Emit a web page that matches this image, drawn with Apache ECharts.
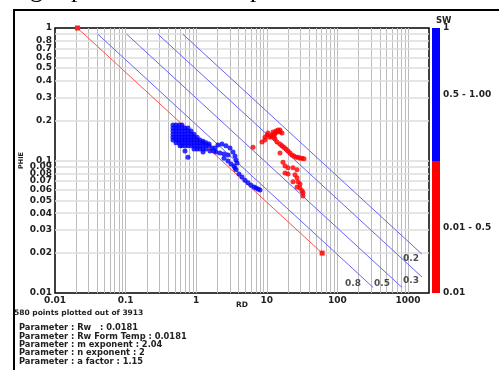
<!DOCTYPE html>
<html><head><meta charset="utf-8">
<script src="https://cdn.jsdelivr.net/npm/echarts@6/dist/echarts.min.js"></script>
<style>html,body{margin:0;padding:0;background:#fff}#c{width:499px;height:370px}</style>
</head><body><div id="c"></div>
<script>
// ---- axis ticks / grid ----
const xTickValues = [0.01, 0.1, 1, 10, 100, 1000];
const xTickLabels = ['0.01', '0.1', '1', '10', '100', '1000'];
const yTickValues = [0.01,0.02,0.03,0.04,0.05,0.06,0.07,0.08,0.09,0.1,0.2,0.3,0.4,0.5,0.6,0.7,0.8,0.9,1];
const yTickLabels = ['0.01','0.02','0.03','0.04','0.05','0.06','0.07','0.08','0.09','0.1','0.2','0.3','0.4','0.5','0.6','0.7','0.8','0.9','1'];
const xGridValues = [0.02,0.03,0.04,0.05,0.06,0.07,0.08,0.09,0.1,0.2,0.3,0.4,0.5,0.6,0.7,0.8,0.9,1,2,3,4,5,6,7,8,9,10,20,30,40,50,60,70,80,90,100,200,300,400,500,600,700,800,900,1000];
const yGridValues = [0.02,0.03,0.04,0.05,0.06,0.07,0.08,0.09,0.1,0.2,0.3,0.4,0.5,0.6,0.7,0.8,0.9];

// ---- Sw lines (RD, PHIE endpoints) ----
const sw1Line  = [[0.0208, 1], [60.8, 0.02]];
const sw08Line = [[0.0403, 0.9], [322, 0.011]];
const sw05Line = [[0.1032, 0.9], [824, 0.011]];
const sw03Line = [[0.2866, 0.9], [1578, 0.0132]];
const sw02Line = [[0.645, 0.9], [1566, 0.0197]];
const swLabelPoints = [[1103, 0.0181], [1103, 0.0123], [166, 0.0117], [428, 0.0117]];
const swLabelTexts = ['0.2', '0.3', '0.8', '0.5'];

// ---- points (RD, PHIE) ----
const bluePoints = [
 [0.469,0.185],[0.469,0.176],[0.469,0.167],[0.469,0.158],[0.469,0.150],[0.469,0.143],
 [0.518,0.185],[0.518,0.176],[0.518,0.167],[0.518,0.158],[0.518,0.150],[0.518,0.143],[0.518,0.136],
 [0.571,0.185],[0.571,0.176],[0.571,0.167],[0.571,0.158],[0.571,0.150],[0.571,0.143],[0.571,0.136],
 [0.629,0.185],[0.629,0.176],[0.629,0.167],[0.629,0.158],[0.629,0.150],[0.629,0.143],[0.629,0.136],
 [0.694,0.176],[0.694,0.167],[0.694,0.158],[0.694,0.150],[0.694,0.143],[0.694,0.136],[0.694,0.129],
 [0.765,0.176],[0.765,0.167],[0.765,0.158],[0.765,0.150],[0.765,0.143],[0.765,0.136],[0.765,0.129],
 [0.844,0.167],[0.844,0.158],[0.844,0.150],[0.844,0.143],[0.844,0.136],[0.844,0.129],
 [0.931,0.158],[0.931,0.150],[0.931,0.143],[0.931,0.136],[0.931,0.129],[0.931,0.122],
 [1.03,0.150],[1.03,0.143],[1.03,0.136],[1.03,0.129],[1.03,0.122],
 [1.13,0.143],[1.13,0.136],[1.13,0.129],[1.13,0.122],
 [1.25,0.140],[1.25,0.136],[1.25,0.129],[1.25,0.122],[1.25,0.116],
 [0.59,0.129],[0.629,0.129],[0.694,0.118],[0.765,0.106],
 [1.377,0.136],[1.52,0.133],[1.377,0.131],[1.52,0.129],[1.674,0.124],[1.846,0.124],[1.377,0.122],[1.57,0.118],[1.78,0.118],
 [2.036,0.131],[2.319,0.133],[2.643,0.129],[3.01,0.124],[3.32,0.116],[3.545,0.108],[3.66,0.101],
 [1.908,0.116],[2.173,0.114],[2.476,0.112],[2.82,0.110],
 [2.476,0.104],[2.82,0.099],[3.111,0.094],[3.43,0.091],[3.785,0.0957],[3.545,0.0878],[3.661,0.085],
 [4.039,0.079],[4.453,0.075],[4.912,0.071],[5.418,0.068],[5.974,0.065],[6.588,0.063],[7.031,0.062],[7.504,0.061],[8.01,0.060]
];
const redPoints = [
 [6.38,0.126],[8.55,0.138],[9.43,0.150],[9.43,0.143],[10.1,0.156],[10.4,0.161],[11.1,0.150],[11.85,0.156],
 [12.24,0.164],[13.07,0.161],[13.5,0.167],[13.95,0.164],[14.41,0.170],[15.38,0.170],[15.38,0.164],[16.42,0.161],
 [11.5,0.153],[12.9,0.158],[14.6,0.166],
 [12.65,0.150],[13.07,0.145],[13.95,0.138],[15.38,0.133],[16.42,0.129],[17.52,0.126],[18.71,0.122],[19.97,0.118],
 [21.31,0.114],[22.75,0.110],[24.28,0.108],[25.91,0.106],[27.67,0.106],[29.53,0.104],[31.52,0.104],[33.64,0.103],
 [15.38,0.114],[16.96,0.097],[18.11,0.091],[19.97,0.088],[23.5,0.088],[26.78,0.085],[18.11,0.0805],[19.97,0.079],
 [25.08,0.078],[26.78,0.074],[23.5,0.069],[27.67,0.069],[29.53,0.0665],[26.78,0.063],[29.53,0.062],[31.52,0.059],
 [32.56,0.057],[32.56,0.054]
];

// ---- colour bar ----
const colorbarStops = [0.01, 0.49, 0.5];   // stacked: offset, red part, blue part
const colorbarLabels = ['0.01 - 0.5', '0.5 - 1.00'];
const colorbarTickValues = [0.01, 1];
const colorbarTickLabels = ['0.01', '1'];

// ---- texts ----
const footerTitle = '580 points plotted out of 3913';
const paramLines = [
 'Parameter : Rw   : 0.0181',
 'Parameter : Rw Form Temp : 0.0181',
 'Parameter : m exponent : 2.04',
 'Parameter : n exponent : 2',
 'Parameter : a factor : 1.15'
];

function nearestLog(values, labels, v) {
  let best = 0, d = Infinity;
  for (let i = 0; i < values.length; i++) {
    const dd = Math.abs(Math.log(v) - Math.log(values[i]));
    if (dd < d) { d = dd; best = i; }
  }
  return labels[best];
}
function nearestLin(values, labels, v) {
  let best = 0, d = Infinity;
  for (let i = 0; i < values.length; i++) {
    const dd = Math.abs(v - values[i]);
    if (dd < d) { d = dd; best = i; }
  }
  return labels[best];
}

const FONT = 'DejaVu Sans';
const lab = { fontFamily: FONT, fontWeight: 'bold', fontSize: 9, color: '#222' };

const chart = echarts.init(document.getElementById('c'), null, { renderer: 'canvas' });
chart.setOption({
  animation: false,
  backgroundColor: '#fff',
  grid: [
    { left: 55, top: 28, width: 374, height: 265, show: true, borderColor: '#000', borderWidth: 1.5, backgroundColor: 'transparent', containLabel: false },
    { left: 432, top: 28, width: 8, height: 265, show: false, containLabel: false }
  ],
  xAxis: [
    { type: 'log', logBase: 10, min: 0.01, max: 1984, gridIndex: 0,
      axisLine: { show: false }, axisTick: { show: false }, splitLine: { show: false },
      axisLabel: Object.assign({ customValues: xTickValues, margin: 3, showMinLabel: true, showMaxLabel: true, hideOverlap: false,
        formatter: v => nearestLog(xTickValues, xTickLabels, v) }, lab),
      name: 'RD', nameLocation: 'middle', nameGap: 8, nameMoveOverlap: false,
      nameTextStyle: { fontFamily: FONT, fontWeight: 'bold', fontSize: 7.5, color: '#222', verticalAlign: 'top' } },
    { type: 'category', data: ['SW'], gridIndex: 1, show: false }
  ],
  yAxis: [
    { type: 'log', logBase: 10, min: 0.01, max: 1, gridIndex: 0,
      axisLine: { show: false }, axisTick: { show: false }, splitLine: { show: false },
      axisLabel: Object.assign({ customValues: yTickValues, margin: 3, showMinLabel: true, showMaxLabel: true, hideOverlap: false,
        formatter: v => nearestLog(yTickValues, yTickLabels, v) }, lab),
      name: 'PHIE', nameLocation: 'middle', nameGap: 30, nameRotate: 90, nameMoveOverlap: false,
      nameTextStyle: { fontFamily: FONT, fontWeight: 'bold', fontSize: 6.5, color: '#222' } },
    { type: 'value', min: 0.01, max: 1, gridIndex: 1, position: 'right',
      axisLine: { show: false }, axisTick: { show: false }, splitLine: { show: false },
      axisLabel: Object.assign({ customValues: colorbarTickValues, margin: 3, showMinLabel: true, showMaxLabel: true,
        formatter: v => nearestLin(colorbarTickValues, colorbarTickLabels, v) }, lab),
      name: 'SW', nameLocation: 'end', nameGap: 2.5, nameMoveOverlap: false,
      nameTextStyle: { fontFamily: FONT, fontWeight: 'bold', fontSize: 8.5, color: '#222', align: 'left', padding: [0, 0, 0, -4] } }
  ],
  graphic: [
    { type: 'rect', shape: { x: 13, y: 9, width: 2, height: 361 }, style: { fill: '#000' }, silent: true },
    { type: 'rect', shape: { x: 13, y: 9, width: 486, height: 2 }, style: { fill: '#000' }, silent: true },
    { type: 'text', x: 30, y: 3.5, style: { text: 'g', font: '26px "Liberation Serif"', fill: '#000', textVerticalAlign: 'bottom' }, silent: true },
    { type: 'text', x: 71, y: 3.5, style: { text: 'p', font: '26px "Liberation Serif"', fill: '#000', textVerticalAlign: 'bottom' }, silent: true },
    { type: 'text', x: 250, y: 3.5, style: { text: 'p', font: '26px "Liberation Serif"', fill: '#000', textVerticalAlign: 'bottom' }, silent: true },
    { type: 'text', x: 14, y: 313, style: { text: footerTitle, font: 'bold 7.5px "DejaVu Sans"', fill: '#222', textVerticalAlign: 'middle' }, silent: true }
  ].concat(paramLines.map((t, i) => ({
    type: 'text', x: 19, y: 328 + i * 8.4,
    style: { text: t, font: 'bold 8.3px "DejaVu Sans"', fill: '#222', textVerticalAlign: 'middle' }, silent: true
  }))),
  series: [
    { type: 'scatter', xAxisIndex: 0, yAxisIndex: 0, data: [], silent: true,
      markLine: { z: 1, silent: true, symbol: ['none', 'none'], label: { show: false }, animation: false,
        lineStyle: { type: 'solid', color: '#bcbcbc', width: 1 },
        data: xGridValues.map(v => ({ xAxis: v })) } },
    { type: 'scatter', xAxisIndex: 0, yAxisIndex: 0, data: [], silent: true,
      markLine: { z: 1, silent: true, symbol: ['none', 'none'], label: { show: false }, animation: false,
        lineStyle: { type: 'solid', color: '#dddddd', width: 1.5 },
        data: yGridValues.map(v => ({ yAxis: v })) } },
    { type: 'line', data: sw08Line, showSymbol: false, z: 3, lineStyle: { color: '#6666f0', width: 1 } },
    { type: 'line', data: sw05Line, showSymbol: false, z: 3, lineStyle: { color: '#6666f0', width: 1 } },
    { type: 'line', data: sw03Line, showSymbol: false, z: 3, lineStyle: { color: '#6666f0', width: 1 } },
    { type: 'line', data: sw02Line, showSymbol: false, z: 3, lineStyle: { color: '#6666f0', width: 1 } },
    { type: 'line', data: sw1Line, showSymbol: true, symbol: 'rect', symbolSize: 5, z: 3,
      itemStyle: { color: '#ff2020' }, lineStyle: { color: '#ff5050', width: 1 } },
    { type: 'scatter', data: bluePoints, symbol: 'circle', symbolSize: 5, z: 4, itemStyle: { color: '#0000ff' } },
    { type: 'scatter', data: redPoints, symbol: 'circle', symbolSize: 5, z: 4, itemStyle: { color: '#ff0000' } },
    { type: 'scatter', data: swLabelPoints, symbolSize: 0, z: 5, silent: true,
      label: Object.assign({ show: true, position: [0, 0], align: 'center', verticalAlign: 'middle',
        formatter: p => swLabelTexts[p.dataIndex] }, lab) },
    { type: 'bar', xAxisIndex: 1, yAxisIndex: 1, stack: 'cb', barWidth: '100%', data: [colorbarStops[0]],
      itemStyle: { color: 'rgba(0,0,0,0)' }, silent: true },
    { type: 'bar', xAxisIndex: 1, yAxisIndex: 1, stack: 'cb', barWidth: '100%', data: [colorbarStops[1]],
      itemStyle: { color: '#ff0000' }, silent: true,
      label: Object.assign({ show: true, position: 'right', distance: 3, formatter: () => colorbarLabels[0] }, lab) },
    { type: 'bar', xAxisIndex: 1, yAxisIndex: 1, stack: 'cb', barWidth: '100%', data: [colorbarStops[2]],
      itemStyle: { color: '#0000ff' }, silent: true,
      label: Object.assign({ show: true, position: 'right', distance: 3, formatter: () => colorbarLabels[1] }, lab) }
  ]
});
</script></body></html>
